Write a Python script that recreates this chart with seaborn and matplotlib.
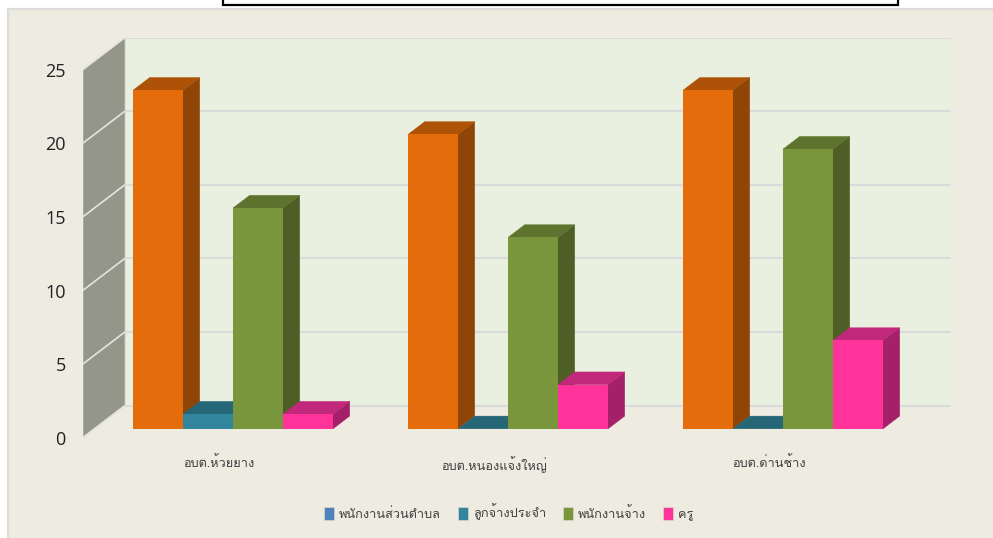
import matplotlib
matplotlib.use("Agg")
import matplotlib.pyplot as plt
import pandas as pd
import seaborn as sns
from matplotlib.patches import Polygon, Rectangle
from matplotlib.transforms import ScaledTranslation

categories = ["อบต.ห้วยยาง", "อบต.หนองแจ้งใหญ่", "อบต.ด่านช้าง"]
series = ["พนักงานส่วนตำบล", "ลูกจ้างประจำ", "พนักงานจ้าง", "ครู"]
v_staff = [23, 20, 23]
v_perm = [1, 0, 0]
v_contract = [15, 13, 19]
v_teacher = [1, 3, 6]
y_ticks = [0, 5, 10, 15, 20, 25]

legend_colors = ["#4f81bd", "#31859c", "#7a963c", "#ff3399"]
bar_colors = ["#e46c0a", "#31859c", "#7a963c", "#ff3399"]
top_colors = ["#ad5206", "#256677", "#5e742e", "#c1277a"]
side_colors = ["#8f4505", "#1f5564", "#4d5e26", "#a42068"]

W, H = 993, 538
PX_UNIT_Y = 14.72     # pixels per value unit
PX_UNIT_X = 275.0     # pixels per category
BASE_PX = 428.8       # pixel row of value 0 at the bars' front
CAT0_PX = 233.0       # pixel column of first category centre
AX_L, AX_R, AX_T, AX_B = 83, 951, 37.5, 437.5

THAI = ["Loma", "DejaVu Sans"]
sns.set_theme(style="white")
plt.rcParams["font.family"] = THAI

df = pd.DataFrame({
    "cat": categories * 4,
    "series": sum([[s] * 3 for s in series], []),
    "value": v_staff + v_perm + v_contract + v_teacher,
})

fig = plt.figure(figsize=(W / 100, H / 100), dpi=100, facecolor="white")

# chart area and the box cut off at the top of the screenshot
fig.add_artist(Rectangle((7.5 / W, -0.02), (W + 10) / W, 1.02 - 8.8 / H, transform=fig.transFigure,
                         facecolor="#eeebe0", edgecolor="#dcdcdc", linewidth=1.6, zorder=-2))
fig.add_artist(Rectangle((223 / W, 1 - 5 / H), 675 / W, 20 / H, transform=fig.transFigure,
                         facecolor="white", edgecolor="black", linewidth=1.6, zorder=-1))

ax = fig.add_axes([AX_L / W, 1 - AX_B / H, (AX_R - AX_L) / W, (AX_B - AX_T) / H])
ax.patch.set_alpha(0)
sns.barplot(data=df, x="cat", y="value", hue="series", order=categories, hue_order=series,
            palette=legend_colors, width=200 / 275, gap=0, saturation=1, ax=ax, legend=True)

ax.set_xlim((AX_L - CAT0_PX) / PX_UNIT_X, (AX_R - CAT0_PX) / PX_UNIT_X)
ax.set_ylim((BASE_PX - AX_B) / PX_UNIT_Y, (BASE_PX - AX_T) / PX_UNIT_Y)
x0, x1 = ax.get_xlim()
y0, y1 = ax.get_ylim()

# walls: offsets of the back plane and the side wall in data units
wall_dx = 42 / PX_UNIT_X
bar_dx = 16.7 / PX_UNIT_X
bar_dy = 12.7 / PX_UNIT_Y
back_dy = 23.3 / PX_UNIT_Y
front_dy = (BASE_PX - AX_B) / PX_UNIT_Y

ax.add_patch(Rectangle((x0 + wall_dx, y0 + 32 / PX_UNIT_Y), x1 - x0 - wall_dx, y1 - y0 - 32 / PX_UNIT_Y,
                       facecolor="#e9f0df", edgecolor="none", zorder=0.1))
ax.add_patch(Polygon([(x0, y0), (x0 + wall_dx, y0 + 32 / PX_UNIT_Y),
                      (x0 + wall_dx, y1), (x0, 25 + front_dy)],
                     closed=True, facecolor="#94968a", edgecolor="#c9cbc2", linewidth=0.6, zorder=0.2))
for v in y_ticks:
    ax.plot([x0 + wall_dx, x1], [v + back_dy, v + back_dy], color="#dadada", lw=1.5,
            solid_capstyle="butt", zorder=0.3)
    ax.plot([x0, x0 + wall_dx], [v + front_dy, v + back_dy], color="#e4e5de", lw=1.2,
            solid_capstyle="butt", zorder=0.35)

# extrude every bar, painted left to right
for si, cont in enumerate(ax.containers):
    for bar in cont:
        bx, bw, bh = bar.get_x(), bar.get_width(), bar.get_height()
        z = 2 + bx
        bar.set_facecolor(bar_colors[si])
        bar.set_edgecolor("none")
        bar.set_zorder(z + 0.02)
        ax.add_patch(Polygon([(bx + bw, 0), (bx + bw + bar_dx, bar_dy),
                              (bx + bw + bar_dx, bh + bar_dy), (bx + bw, bh)],
                             closed=True, facecolor=side_colors[si], edgecolor=side_colors[si],
                             linewidth=0.3, zorder=z))
        ax.add_patch(Polygon([(bx, bh), (bx + bar_dx, bh + bar_dy),
                              (bx + bw + bar_dx, bh + bar_dy), (bx + bw, bh)],
                             closed=True, facecolor=top_colors[si], edgecolor=top_colors[si],
                             linewidth=0.3, zorder=z + 0.01))

# axes text
ax.set_xlabel("")
ax.set_ylabel("")
ax.set_yticks(y_ticks)
ax.tick_params(axis="y", length=0, pad=12.5, labelsize=13, labelcolor="#222222")
ax.tick_params(axis="x", length=0, pad=13.5, labelsize=9.2, labelcolor="#404040")
down = ScaledTranslation(0, -9 / 100, fig.dpi_scale_trans)
for lab in ax.get_yticklabels():
    lab.set_transform(lab.get_transform() + down)
    lab.set_family(["Open Sans", "DejaVu Sans"])
left = ScaledTranslation(-14 / 100, 0, fig.dpi_scale_trans)
for lab in ax.get_xticklabels():
    lab.set_transform(lab.get_transform() + left)
for side in ax.spines.values():
    side.set_visible(False)
ax.grid(False)

# legend keeps the series palette
handles = ax.get_legend().legend_handles
for h in handles:
    h.set_edgecolor("#d8d8d0")
    h.set_linewidth(0.5)
ax.get_legend().remove()
fig.legend(handles, series, loc="center", bbox_to_anchor=(508.5 / W, 1 - 512.3 / H), ncol=4,
           frameon=False, fontsize=9.2, labelcolor="#404040", handlelength=0.78, handleheight=1.13,
           handletextpad=0.39, columnspacing=1.33, borderpad=0)

fig.savefig("out.png", dpi=100, facecolor="white")
